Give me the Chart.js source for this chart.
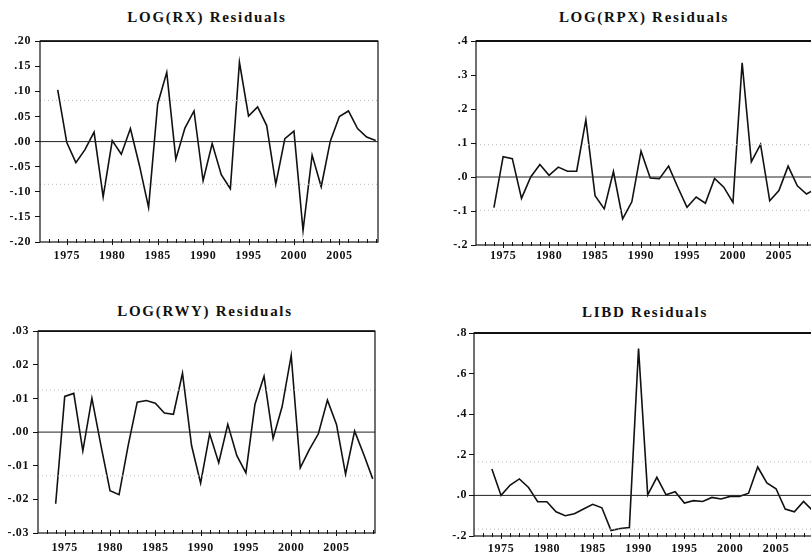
<!DOCTYPE html>
<html>
<head>
<meta charset="utf-8">
<script src="https://cdn.jsdelivr.net/npm/chart.js@4"></script>
<style>
  html,body{margin:0;padding:0;background:#fff;}
  body{width:811px;height:555px;overflow:hidden;position:relative;}
  canvas{position:absolute;}
  .ttl{position:absolute;font-family:"Liberation Serif","DejaVu Serif",serif;font-weight:bold;font-size:15px;letter-spacing:1.7px;color:#111;white-space:nowrap;transform:translate(-50%,-50%);}
</style>
</head>
<body>
<div class="ttl" style="left:207px;top:17px">LOG(RX) Residuals</div>
<div class="ttl" style="left:644px;top:17px">LOG(RPX) Residuals</div>
<div class="ttl" style="left:205px;top:311px">LOG(RWY) Residuals</div>
<div class="ttl" style="left:645px;top:312px">LIBD Residuals</div>
<canvas id="c1" width="400" height="240" style="left:0px;top:30px"></canvas>
<canvas id="c2" width="420" height="240" style="left:410px;top:30px"></canvas>
<canvas id="c3" width="400" height="235" style="left:0px;top:320px"></canvas>
<canvas id="c4" width="420" height="235" style="left:410px;top:320px"></canvas>
<script>
// ---------------- data ----------------
const years = [1974,1975,1976,1977,1978,1979,1980,1981,1982,1983,1984,1985,1986,1987,1988,1989,1990,1991,
               1992,1993,1994,1995,1996,1997,1998,1999,2000,2001,2002,2003,2004,2005,2006,2007,2008,2009];

const rxResid = [0.103,-0.002,-0.042,-0.016,0.019,-0.110,0.002,-0.025,0.026,-0.048,-0.131,0.075,0.138,-0.035,
                 0.027,0.061,-0.078,-0.004,-0.066,-0.094,0.158,0.051,0.069,0.032,-0.085,0.006,0.021,-0.177,
                 -0.027,-0.090,0.001,0.050,0.061,0.026,0.009,0.002];

const rpxResid = [-0.090,0.060,0.054,-0.063,0.000,0.037,0.005,0.029,0.017,0.017,0.168,-0.055,-0.094,0.016,
                  -0.123,-0.073,0.076,-0.003,-0.005,0.032,-0.030,-0.089,-0.059,-0.077,-0.004,-0.030,-0.075,
                  0.336,0.045,0.096,-0.070,-0.040,0.032,-0.026,-0.050,-0.035];

const rwyResid = [-0.0213,0.0106,0.0115,-0.0056,0.0101,-0.0040,-0.0174,-0.0186,-0.0040,0.0089,0.0094,0.0086,
                  0.0057,0.0053,0.0175,-0.0040,-0.0152,-0.0005,-0.0091,0.0023,-0.0070,-0.0121,0.0083,0.0166,
                  -0.0019,0.0076,0.0228,-0.0106,-0.0052,-0.0005,0.0095,0.0023,-0.0125,0.0003,-0.0066,-0.0139];

const libdResid = [0.130,0.000,0.051,0.081,0.039,-0.031,-0.031,-0.081,-0.100,-0.090,-0.067,-0.044,-0.061,
                   -0.173,-0.163,-0.158,0.724,0.003,0.089,0.003,0.018,-0.038,-0.026,-0.030,-0.010,-0.018,
                   -0.005,-0.005,0.011,0.140,0.061,0.033,-0.067,-0.081,-0.030,-0.075];

// +/- bands (dotted) for each panel
const rxBands = [0.082,-0.085];
const rpxBands = [0.095,-0.098];
const rwyBands = [0.0125,-0.0130];
const libdBands = [0.165,-0.166];

// tick values and labels
const xTickVals = [1975,1980,1985,1990,1995,2000,2005];
const xTickLabels = ["1975","1980","1985","1990","1995","2000","2005"];
const rxTickVals = [0.20,0.15,0.10,0.05,0.00,-0.05,-0.10,-0.15,-0.20];
const rxTickLabels = [".20",".15",".10",".05",".00","-.05","-.10","-.15","-.20"];
const rpxTickVals = [0.4,0.3,0.2,0.1,0.0,-0.1,-0.2];
const rpxTickLabels = [".4",".3",".2",".1",".0","-.1","-.2"];
const rwyTickVals = [0.03,0.02,0.01,0.00,-0.01,-0.02,-0.03];
const rwyTickLabels = [".03",".02",".01",".00","-.01","-.02","-.03"];
const libdTickVals = [0.8,0.6,0.4,0.2,0.0,-0.2];
const libdTickLabels = [".8",".6",".4",".2",".0","-.2"];

// ---------------- drawing ----------------
const X_MIN = 1972.05, X_MAX = 2009.25;
const FONT = {family:'"Liberation Serif","DejaVu Serif",serif', size:12, weight:'bold'};

const framePlugin = {
  id:'frame',
  beforeDraw(chart){ try { chart.ctx.letterSpacing = '0.6px'; } catch(e) {} },
  afterDatasetsDraw(chart){
    const {ctx, chartArea:a, scales} = chart;
    ctx.save();
    ctx.strokeStyle = '#111';
    ctx.lineWidth = 1.2;
    ctx.strokeRect(a.left, a.top, a.right - a.left, a.bottom - a.top);
    ctx.lineWidth = 1.8;
    ctx.beginPath(); ctx.moveTo(a.left, a.top); ctx.lineTo(a.right, a.top); ctx.stroke();
    // year ticks on bottom axis
    ctx.lineWidth = 1;
    const xs = scales.x;
    for (let y = 1973; y <= 2009; y++) {
      const px = Math.round(xs.getPixelForValue(y)) + 0.5;
      if (px < a.left || px > a.right) continue;
      const major = y % 5 === 0;
      ctx.beginPath();
      ctx.moveTo(px, a.bottom - 3);
      ctx.lineTo(px, a.bottom + (major ? 3 : 1));
      ctx.stroke();
    }
    ctx.restore();
  }
};

function makeChart(id, values, bands, tickVals, tickLabels, box) {
  const canvas = document.getElementById(id);
  const series = years.map((yr, i) => ({x: yr, y: values[i]}));
  const bandSets = bands.map(b => ({
    data:[{x:X_MIN,y:b},{x:X_MAX,y:b}],
    borderColor:'#b8b8b8', borderWidth:1, borderDash:[1,3], pointRadius:0, fill:false
  }));
  const zeroSet = {data:[{x:X_MIN,y:0},{x:X_MAX,y:0}], borderColor:'#222', borderWidth:1, pointRadius:0, fill:false};
  const ymin = Math.min(...tickVals), ymax = Math.max(...tickVals);
  const revLabels = tickLabels.slice().reverse();
  return new Chart(canvas, {
    type:'line',
    data:{datasets:[...bandSets, zeroSet,
      {data:series, borderColor:'#111', borderWidth:1.6, pointRadius:0, tension:0, fill:false}]},
    options:{
      responsive:false, animation:false,
      plugins:{legend:{display:false}, tooltip:{enabled:false}, title:{display:false}},
      layout:{padding:{left:0, top:box.padTop, right:box.padRight, bottom:0}},
      scales:{
        x:{type:'linear', min:X_MIN, max:X_MAX,
           grid:{display:false, drawTicks:false}, border:{display:false},
           afterBuildTicks(s){ s.ticks = xTickVals.map(v => ({value:v})); },
           afterFit(s){ s.height = box.xH; },
           ticks:{font:FONT, color:'#111', padding:box.xPad, maxRotation:0, autoSkip:false,
                  callback:(v,i) => xTickLabels[i]}},
        y:{type:'linear', min:ymin, max:ymax,
           grid:{drawOnChartArea:false, drawTicks:true, tickLength:5, color:'#111', lineWidth:1},
           border:{display:false},
           afterBuildTicks(s){ s.ticks = tickVals.slice().reverse().map(v => ({value:v})); },
           afterFit(s){ s.width = box.yW; },
           ticks:{font:FONT, color:'#111', padding:box.yPad, autoSkip:false,
                  callback:(v,i) => revLabels[i]}}
      }
    },
    plugins:[framePlugin]
  });
}

makeChart('c1', rxResid, rxBands, rxTickVals, rxTickLabels, {padTop:9, padRight:22, yW:40, xH:28, xPad:7, yPad:4});
makeChart('c2', rpxResid, rpxBands, rpxTickVals, rpxTickLabels, {padTop:11, padRight:12, yW:66, xH:25, xPad:4, yPad:3});
makeChart('c3', rwyResid, rwyBands, rwyTickVals, rwyTickLabels, {padTop:10, padRight:25, yW:38, xH:22, xPad:8, yPad:4});
makeChart('c4', libdResid, libdBands, libdTickVals, libdTickLabels, {padTop:13, padRight:15, yW:64, xH:19, xPad:6, yPad:2});
</script>
</body>
</html>
